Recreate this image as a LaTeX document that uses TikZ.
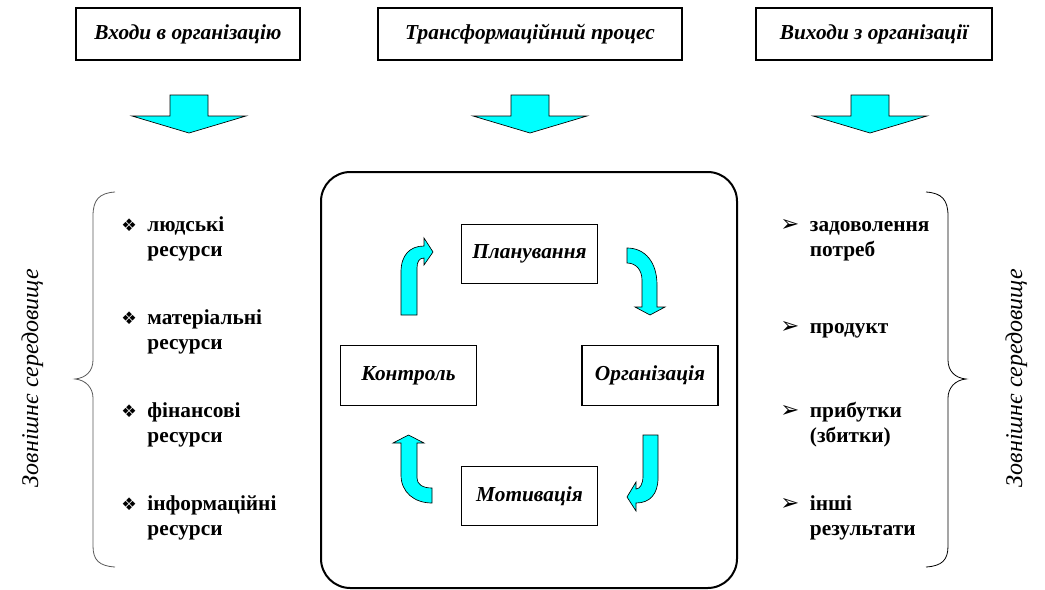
\documentclass[tikz,border=0pt]{standalone}
\usepackage{fontspec}
\setmainfont{Liberation Serif}
\newfontfamily\symfont{DejaVu Sans}
\usetikzlibrary{positioning}

\definecolor{aqua}{HTML}{00FFFF}
\newcommand{\diam}{{\symfont\fontsize{13}{14}\selectfont ❖}}
\newcommand{\pointer}{{\symfont\fontsize{17}{14}\selectfont ➢}}
\newcommand{\entry}[3]{\begin{tabular}[t]{@{}l@{\hspace{8pt}}l@{}}#1 & #2\\ & #3\end{tabular}}

\begin{document}
\begin{tikzpicture}[x=0.75pt,y=-0.75pt,
	title/.style={draw, line width=0.8pt, minimum height=39pt, inner sep=0pt,
		font=\fontsize{16}{19}\selectfont\bfseries\itshape},
	stage/.style={draw, line width=0.8pt, minimum width=102pt, minimum height=44.5pt,
		inner sep=0pt, font=\fontsize{16}{19}\selectfont\bfseries\itshape},
	item/.style={anchor=base west, inner sep=0pt, align=left,
		font=\fontsize{16}{19}\selectfont\bfseries},
	side/.style={rotate=90, anchor=base, inner sep=0pt,
		font=\fontsize{18}{20}\selectfont\itshape},
	flow/.style={fill=aqua, draw=black, line width=0.5pt},
	brace/.style={line width=0.6pt}]
	\useasboundingbox (0,0) rectangle (1045,589);
	% headings
	\node[title, minimum width=168pt] (inputs) at (188,34) {Входи в організацію};
	\node[title, minimum width=228pt] (process) at (530,34) {Трансформаційний процес};
	\node[title, minimum width=177pt] (outputs) at (874,34) {Виходи з організації};
	\foreach \cx in {189,530,870}
		\filldraw[flow] (\cx-19,95) -- (\cx+19,95) -- (\cx+19,116) -- (\cx+57,116)
			-- (\cx,133) -- (\cx-57,116) -- (\cx-19,116) -- cycle;
	% management cycle
	\draw[line width=1.5pt, rounded corners=22pt] (321,172) rectangle (737,588);
	\node[stage] (plan) at (529.5,254) {Планування};
	\node[stage] (ctrl) at (408.5,375.5) {Контроль};
	\node[stage] (org) at (650,375.5) {Організація};
	\node[stage] (motiv) at (529.5,496) {Мотивація};
	\filldraw[flow] (401,315) -- (401,272) .. controls (401,255) and (410,246) .. (424,246)
		-- (424,238) -- (433,252) -- (424,265) -- (424,258)
		.. controls (419,258) and (417,262) .. (417,268) -- (417,315) -- cycle;
	\filldraw[flow] (627,248) .. controls (645,248) and (657,262) .. (657,285) -- (657,307)
		-- (665,307) -- (650,315) -- (635,307) -- (642,307) -- (642,280)
		.. controls (642,270) and (636,263) .. (627,263) -- cycle;
	\filldraw[flow] (643,435) -- (658,435) -- (658,478) .. controls (658,494) and (650,503) .. (636,503)
		-- (636,511) -- (627,497) -- (636,482) -- (636,489)
		.. controls (640,489) and (643,484) .. (643,476) -- cycle;
	\filldraw[flow] (432,503) .. controls (414,503) and (401,492) .. (401,475) -- (401,443)
		-- (393,443) -- (408.5,435) -- (424,443) -- (417,443) -- (417,478)
		.. controls (417,484) and (422,488) .. (432,488) -- cycle;
	% inputs
	\node[item] (people) at (121,231) {\entry{\diam}{людські}{ресурси}};
	\node[item] (material) at (121,324) {\entry{\diam}{матеріальні}{ресурси}};
	\node[item] (finance) at (121,417) {\entry{\diam}{фінансові}{ресурси}};
	\node[item] (info) at (121,510) {\entry{\diam}{інформаційні}{ресурси}};
	% outputs
	\node[item] (needs) at (780,231) {\entry{\pointer}{задоволення}{потреб}};
	\node[item] (product) at (780,333) {\begin{tabular}[t]{@{}l@{\hspace{8pt}}l@{}}\pointer & продукт\end{tabular}};
	\node[item] (profit) at (780,417) {\entry{\pointer}{прибутки}{(збитки)}};
	\node[item] (other) at (780,510) {\entry{\pointer}{інші}{результати}};
	% environment
	\draw[brace, gray!70!black] (115,192) .. controls (99,193) and (93,200) .. (93,216) -- (93,360)
		.. controls (93,371) and (86,378) .. (75,379) .. controls (86,380) and (93,388) .. (93,398)
		-- (93,546) .. controls (93,560) and (99,566) .. (115,567);
	\draw[brace] (926,192) .. controls (942,193) and (948,200) .. (948,216) -- (948,360)
		.. controls (948,371) and (955,378) .. (966,379) .. controls (955,380) and (948,388) .. (948,398)
		-- (948,546) .. controls (948,560) and (942,566) .. (926,567);
	\node[side] (envleft) at (38,378) {Зовнішнє середовище};
	\node[side] (envright) at (1022,378) {Зовнішнє середовище};
\end{tikzpicture}
\end{document}
